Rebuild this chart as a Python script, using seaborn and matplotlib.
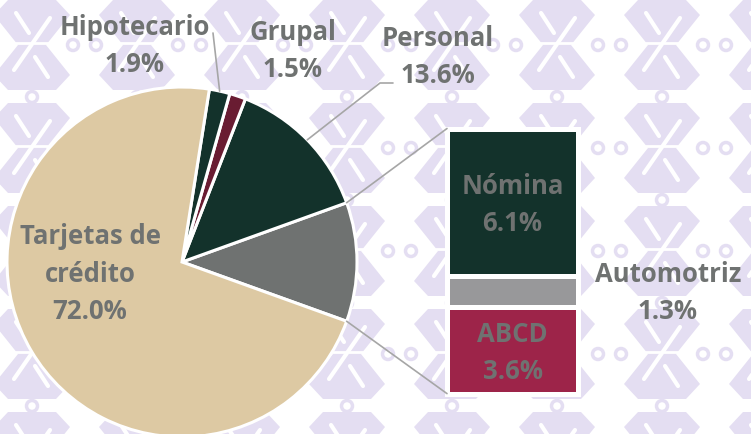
import numpy as np
import matplotlib
matplotlib.use('Agg')
import matplotlib.pyplot as plt
from matplotlib.patches import ConnectionPatch, Circle, Polygon
import seaborn as sns

# pie slices (share of the portfolio, %), counter-clockwise from the right
pie_names = ['Otros', 'Personal', 'Grupal', 'Hipotecario', 'Tarjetas de\ncrédito']
pie_values = [11.0, 13.6, 1.5, 1.9, 72.0]
pie_colors = ['#6F7271', '#13322B', '#691C32', '#13322B', '#DDC9A3']

# breakdown of the grey slice, bottom to top
bar_names = ['ABCD', 'Automotriz', 'Nómina']
bar_values = [3.6, 1.3, 6.1]
bar_colors = ['#9D2449', '#98989A', '#13322B']

sns.set_style('white')
plt.rcParams['font.family'] = ['Open Sans', 'DejaVu Sans']
txt = '#6F7271'
line_c = '#A6A6A6'
lav = '#E4DEF2'

W, H = 751, 434
fig = plt.figure(figsize=(7.51, 4.34), dpi=100)
ax = fig.add_axes([0, 0, 1, 1])

# faint background watermark motif (hourglass shape with white cuts)
shape = np.array([(-24, -45), (24, -45), (38, -30), (14, 0), (38, 30), (24, 45),
                  (-24, 45), (-38, 30), (-14, 0), (-38, -30)], dtype=float)
for xc in range(32, 800, 105):
    for yc in range(-58, 500, 103):
        y = H - yc
        pts = shape.copy()
        pts[:, 0] += xc
        pts[:, 1] = y - pts[:, 1]
        ax.add_patch(Polygon(pts, closed=True, color=lav, lw=0, zorder=0))
        wk = dict(color='white', lw=3, zorder=0.1, solid_capstyle='round')
        ax.plot([xc - 18, xc + 18], [y - 25, y + 27], **wk)
        ax.plot([xc - 16, xc - 3], [y + 32, y + 12], **wk)
        ax.plot([xc + 16, xc + 3], [y - 32, y - 12], **wk)
        ax.plot([xc - 28, xc + 28], [y + 2, y + 2], color='white', lw=2, zorder=0.1)
        for ox, oy in [(-41, 0), (41, 0), (0, -52)]:
            ax.add_patch(Circle((xc + ox, y + oy), 5.5, fill=False, ec=lav, lw=2.5, zorder=0))

cx, cy, r = 182, H - 262, 175
start = -pie_values[0] / 100 * 360 / 2
wedges, _ = ax.pie(pie_values, colors=pie_colors, startangle=start,
                   center=(cx, cy), radius=r, counterclock=True,
                   wedgeprops=dict(edgecolor='white', linewidth=2.2, zorder=2))
ax.set_xlim(0, W)
ax.set_ylim(0, H)
ax.set_aspect('equal')
ax.axis('off')

def pct(v):
    return f'{v:.1f}%'

fs = 18.5
kw = dict(color=txt, fontsize=fs, fontweight='bold', ha='center', va='center',
          linespacing=1.5, zorder=5)

# labels around the pie
ax.text(90, H - 274, f'{pie_names[4]}\n{pct(pie_values[4])}', **kw)
ax.text(135, H - 46, f'{pie_names[3]}\n{pct(pie_values[3])}', **kw)
ax.text(293, H - 51, f'{pie_names[2]}\n{pct(pie_values[2])}', **kw)
ax.text(438, H - 57, f'{pie_names[1]}\n{pct(pie_values[1])}', **kw)

# leader lines
ang = np.cumsum([0] + pie_values) / 100 * 360 + start
mid = (ang[:-1] + ang[1:]) / 2
def edge(a):
    return cx + r * np.cos(np.radians(a)), cy + r * np.sin(np.radians(a))
px, py = edge(mid[1])
ax.plot([px, 380, 393], [py, H - 83, H - 83], color=line_c, lw=1.2, zorder=3)
hx, hy = edge(mid[3])
ax.plot([hx, 213], [hy, H - 33], color=line_c, lw=1.2, zorder=3)

# stacked bar for the grey slice
s = 24.1
top, bottom = 128.5, 128.5 + sum(bar_values) * s
axb = fig.add_axes([447 / W, (H - bottom) / H, 131 / W, (bottom - top) / H])
base = 0
for name, v, c in zip(bar_names, bar_values, bar_colors):
    axb.bar(0, v, bottom=base, width=1, color=c, edgecolor='white',
            linewidth=3.6, clip_on=False)
    if name != 'Automotriz':
        axb.text(0, base + v / 2 - 0.12, f'{name}\n{pct(v)}', **kw)
    base += v
axb.set_xlim(-0.5, 0.5)
axb.set_ylim(0, sum(bar_values))
axb.axis('off')

ax.text(668, H - 293, f'{bar_names[1]}\n{pct(bar_values[1])}', **kw)

# connectors from grey slice to bar
for a, yb in [(ang[1], sum(bar_values)), (ang[0], 0)]:
    con = ConnectionPatch(xyA=edge(a), coordsA=ax.transData, xyB=(-0.5, yb),
                          coordsB=axb.transData, color=line_c, lw=1.2)
    fig.add_artist(con)

fig.savefig('out.png', dpi=100)
